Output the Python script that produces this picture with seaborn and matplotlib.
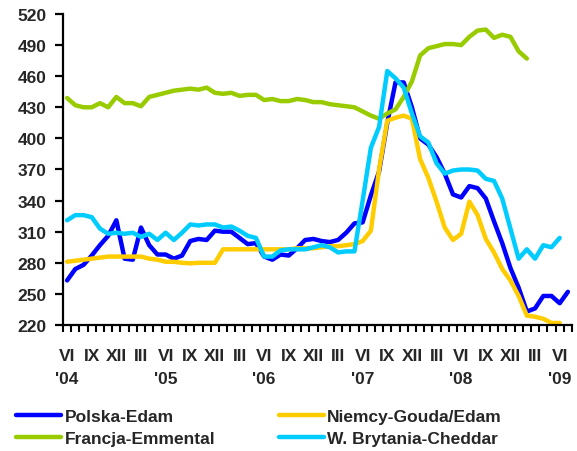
import numpy as np
import seaborn as sns
import matplotlib.pyplot as plt
from matplotlib.lines import Line2D

# monthly prices, VI 2004 .. VII 2009 (index 0 = VI '04)
months = np.arange(62)

polska_edam = [263, 274, 278, 287, 297, 306, 321, 284, 283, 314, 297, 288,
               288, 284, 287, 301, 303, 302, 311, 310, 310, 304, 298, 299,
               286, 283, 288, 287, 294, 302, 303, 301, 300, 302, 309, 318,
               319, 345, 368, 415, 454, 454, 430, 400, 394, 382, 366, 346,
               343, 354, 352, 342, 320, 299, 275, 256, 233, 236, 248, 248,
               241, 252]
niemcy_gouda_edam = [281, 282, 283, 284, 285, 286, 286, 286, 286, 286, 284, 283,
                     281, 281, 280, 279.5, 280, 280, 280, 293, 293, 293, 293, 293,
                     293, 293, 293, 293, 294, 294, 294, 295, 296, 296, 297, 298,
                     301, 311, 370, 417, 420, 422, 419, 380, 362, 339, 314, 302,
                     308, 339, 326, 303, 290, 274, 263, 248, 229, 228, 226, 222,
                     222]
francja_emmental = [439, 432, 430, 430, 434, 430, 440, 434, 434, 431, 440, 442,
                    444, 446, 447, 448, 447, 449, 444, 443, 444, 441, 442, 442,
                    437, 438, 436, 436, 438, 437, 435, 435, 433, 432, 431, 430,
                    426, 422, 419, 424, 428, 440, 455, 480, 487, 489, 491, 491,
                    490, 498, 504, 505, 497, 500, 498, 484, 477]
brytania_cheddar = [321, 326, 326, 324, 313, 308, 309, 308, 309, 305, 308, 302,
                    309, 302, 309, 317, 316, 317, 317, 314, 315, 311, 306, 304,
                    286, 286, 292, 293, 293, 293, 295, 297, 295, 290, 291, 291,
                    340, 391, 411, 465, 458, 449, 424, 402, 396, 376, 366, 369,
                    370, 370, 369, 361, 359, 342, 313, 284, 293, 284, 297, 295,
                    304]

series_names = ['Polska-Edam', 'Niemcy-Gouda/Edam', 'Francja-Emmental', 'W. Brytania-Cheddar']
colors = ['#0000FF', '#FFCC00', '#99CC00', '#00CCFF']

tick_pos = list(range(0, 61, 3))
tick_labels = ["VI\n'04", 'IX', 'XII', 'III',
               "VI\n'05", 'IX', 'XII', 'III',
               "VI\n'06", 'IX', 'XII', 'III',
               "VI\n'07", 'IX', 'XII', 'III',
               "VI\n'08", 'IX', 'XII', 'III',
               "VI\n'09"]
y_ticks = list(range(220, 521, 30))

sns.set_style('white')
plt.rcParams['font.family'] = ['Liberation Sans', 'DejaVu Sans']
plt.rcParams['font.weight'] = 'bold'
fs = 12.5

fig = plt.figure(figsize=(5.77, 4.52), dpi=100)
ax = fig.add_axes([63 / 577, 1 - 326 / 452, 509 / 577, 311 / 452])

all_series = [polska_edam, niemcy_gouda_edam, francja_emmental, brytania_cheddar]
for vals, col in zip(all_series, colors):
    sns.lineplot(x=months[:len(vals)], y=vals, ax=ax, color=col, lw=3.2,
                 solid_joinstyle='round', solid_capstyle='round', legend=False)

ax.set_xlim(-0.5, 61.5)
ax.set_ylim(220, 520)
ax.set_yticks(y_ticks)
ax.set_xticks(tick_pos)
ax.set_xticklabels(tick_labels)
ax.set_xticks(np.arange(-0.5, 62, 1), minor=True)
ax.set_xlabel('')
ax.set_ylabel('')

for s in ['top', 'right']:
    ax.spines[s].set_visible(False)
for s in ['left', 'bottom']:
    ax.spines[s].set_color('black')
    ax.spines[s].set_linewidth(1.6)

ax.tick_params(axis='y', which='major', left=True, length=6, width=1.6, pad=6,
               labelsize=fs, color='black')
ax.tick_params(axis='x', which='major', bottom=False, length=0, pad=16.5, labelsize=fs)
ax.tick_params(axis='x', which='minor', bottom=True, length=5, width=1.5, color='black')
for lab in ax.get_xticklabels():
    lab.set_linespacing(1.68)
    lab.set_fontweight('bold')
for lab in ax.get_yticklabels():
    lab.set_fontweight('bold')

handles = [Line2D([], [], color=c, lw=3.2) for c in colors]
# column-major order: left column Polska/Francja, right column Niemcy/Brytania
order = [0, 2, 1, 3]
fig.legend([handles[i] for i in order], [series_names[i] for i in order],
           ncol=2, loc='upper left', bbox_to_anchor=(16 / 577, 1 - 410 / 452),
           frameon=False, prop={'size': fs, 'weight': 'bold'},
           handlelength=2.6, handletextpad=0.2, columnspacing=3.65,
           labelspacing=0.37, borderpad=0, borderaxespad=0)

fig.savefig('out.png', dpi=100)
